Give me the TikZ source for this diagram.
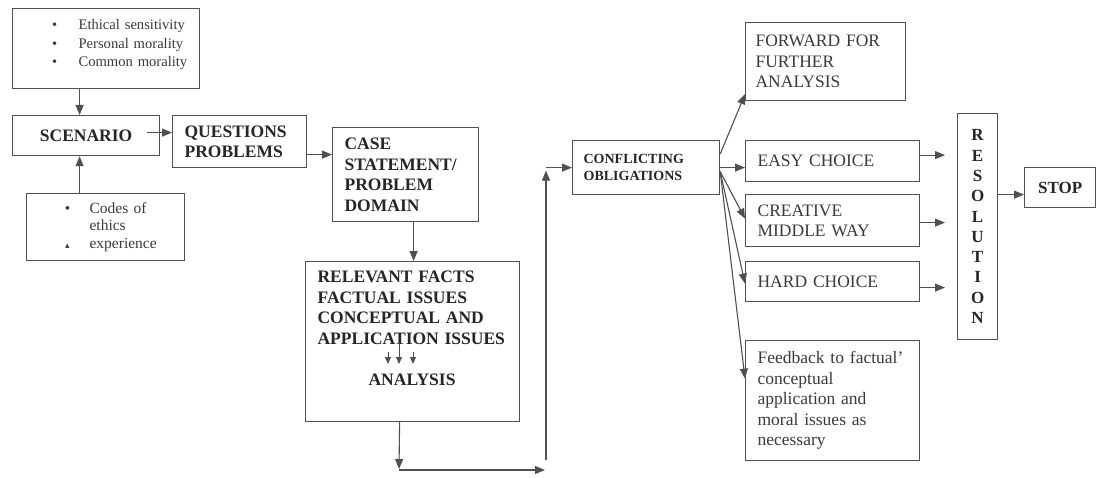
\documentclass[tikz,border=0pt]{standalone}
\usepackage{fontspec}
\setmainfont{Liberation Serif}
\newfontfamily\dejavu{DejaVu Sans}
\usetikzlibrary{arrows.meta}
\definecolor{linec}{HTML}{505050}
\definecolor{txtb}{HTML}{262626}
\definecolor{txtr}{HTML}{3A3A3A}
\begin{document}
\begin{tikzpicture}[x=1pt,y=-1pt,
 box/.style={draw=linec, line width=1.2pt, anchor=north west, inner sep=0pt, align=left},
 bigb/.style={font=\fontsize{17.5}{20.5}\selectfont\bfseries, text=txtb},
 reg/.style={font=\fontsize{17.5}{20.5}\selectfont, text=txtr},
 arr/.style={draw=linec, line width=1.1pt, -{Triangle[length=10pt,width=8pt]}},
 sarr/.style={draw=linec, line width=1pt, -{Triangle[length=7pt,width=6pt]}}]
\fill[white] (0,0) rectangle (1099,478);
\useasboundingbox (0,0) rectangle (1099,478);

% left column
\node[box, minimum width=187pt, minimum height=80pt, text width=187pt,
      font=\fontsize{14.6}{18.5}\selectfont, text=txtr] (eth) at (12,8)
 {\hspace*{39.4pt}\makebox[26.6pt][l]{\textbullet}Ethical sensitivity\\
  \hspace*{39.4pt}\makebox[26.6pt][l]{\textbullet}Personal morality\\
  \hspace*{39.4pt}\makebox[26.6pt][l]{\textbullet}Common morality\rule[-11pt]{0pt}{11pt}};

\node[box, bigb, minimum width=147pt, minimum height=40pt, text width=147pt, align=center] (scen) at (12,115) {SCENARIO};

\node[box, minimum width=158pt, minimum height=67pt, text width=158pt,
      font=\fontsize{15.5}{17.5}\selectfont, text=txtr] (codes) at (26,193)
 {\hspace*{38.3pt}\makebox[24.7pt][l]{\textbullet}Codes of\\
  \hspace*{63pt}ethics\\
  \hspace*{38.3pt}\makebox[24.7pt][l]{\hspace*{0.3pt}{\dejavu\fontsize{9}{9}\selectfont ▴}}experience};

\node[box, bigb, minimum width=134pt, minimum height=52pt, text width=134pt] (q) at (172,115)
 {\hspace*{12pt}QUESTIONS\\\hspace*{12pt}PROBLEMS};

\node[box, bigb, minimum width=146pt, minimum height=94pt, text width=146pt] (case) at (332,127)
 {\hspace*{12pt}CASE\\\hspace*{12pt}STATEMENT/\\\hspace*{12pt}PROBLEM\\\hspace*{12pt}DOMAIN};

\node[box, bigb, minimum width=214pt, minimum height=160pt, text width=214pt] (rel) at (305,261)
 {\hspace*{12pt}RELEVANT FACTS\\\hspace*{12pt}FACTUAL ISSUES\\\hspace*{12pt}CONCEPTUAL AND\\\hspace*{12pt}APPLICATION ISSUES\\[20.5pt]\hspace*{63pt}ANALYSIS\rule[-27pt]{0pt}{27pt}};

% small arrows inside analysis box
\draw[sarr] (388,352) -- (388,364);
\draw[sarr] (399,343) -- (399,364);
\draw[sarr] (413,352) -- (413,364);

\node[box, font=\fontsize{14}{17}\selectfont\bfseries, text=txtb, minimum width=147pt, minimum height=54pt, text width=147pt] (conf) at (572,140)
 {\hspace*{11pt}CONFLICTING\\\hspace*{11pt}OBLIGATIONS};

% right column
\node[box, reg, minimum width=160pt, minimum height=78pt, text width=160pt] (fwd) at (745,22)
 {\hspace*{10pt}FORWARD FOR\\\hspace*{10pt}FURTHER\\\hspace*{10pt}ANALYSIS};
\node[box, reg, minimum width=174pt, minimum height=41pt, text width=174pt] (easy) at (745,140)
 {\hspace*{12pt}EASY CHOICE};
\node[box, reg, minimum width=174pt, minimum height=52pt, text width=174pt] (crea) at (745,194)
 {\hspace*{12pt}CREATIVE\\\hspace*{12pt}MIDDLE WAY};
\node[box, reg, minimum width=174pt, minimum height=40pt, text width=174pt] (hard) at (745,261)
 {\hspace*{12pt}HARD CHOICE};
\node[box, reg, minimum width=174pt, minimum height=120pt, text width=174pt] (fb) at (745,340)
 {\hspace*{12pt}Feedback to factual’\\\hspace*{12pt}conceptual\\\hspace*{12pt}application and\\\hspace*{12pt}moral issues as\\\hspace*{12pt}necessary};

\node[box, font=\fontsize{17}{20.3}\selectfont\bfseries, text=txtb, minimum width=40pt, minimum height=226pt, text width=40pt, align=center] (res) at (957,113)
 {R\\E\\S\\O\\L\\U\\T\\I\\O\\N};
\node[box, font=\fontsize{17}{20}\selectfont\bfseries, text=txtb, minimum width=71pt, minimum height=40pt, text width=71pt, align=center] (stop) at (1024,167) {STOP};

% coordinates for free ends
\coordinate (c1) at (399,470);
\coordinate (c2) at (545,470);
\coordinate (c3) at (546,460);
\coordinate (c4) at (c3 |- conf.west);
\coordinate (rt) at (945,0);

% connectors
\draw[arr] ([xshift=-26.5pt]eth.south) -- ([xshift=-26.5pt]eth.south |- scen.north);
\draw[arr] ([xshift=-26pt]codes.north) -- ([xshift=-26pt]codes.north |- scen.south);
\draw[arr] ([xshift=-13pt,yshift=3pt]scen.east) -- ([yshift=3pt]scen.east -| q.west);
\draw[arr] ([yshift=-13pt]q.east) -- ([yshift=-13pt]q.east -| case.west);
\draw[arr] ([xshift=8pt]case.south) -- ([xshift=8pt]case.south |- rel.north);
\draw[arr] ([xshift=-13pt]rel.south) -- ([yshift=1pt]c1);
\draw[arr] (c1) -- (c2);
\draw[arr] (c3) -- ([yshift=-3pt]c4);
\draw[arr] (c4) -- (conf.west);

\draw[arr] ([yshift=-14pt]conf.north east) -- ([yshift=7pt]fwd.south west);
\draw[arr] (conf.east) -- (conf.east -| easy.west);
\draw[arr] ([yshift=-4pt]conf.east) -- ([yshift=2pt]crea.west);
\draw[arr] ([yshift=-4pt]conf.east) -- ([yshift=-2pt]hard.west);
\draw[arr] ([yshift=-4pt]conf.east) -- ([yshift=22pt]fb.west);

\draw[arr] ([yshift=6pt]easy.east) -- ([yshift=6pt]easy.east -| rt);
\draw[arr] ([yshift=-2pt]crea.east) -- ([yshift=-2pt]crea.east -| rt);
\draw[arr] ([yshift=-6pt]hard.east) -- ([yshift=-6pt]hard.east -| rt);
\draw[arr] ([yshift=-7pt]stop.west -| res.east) -- ([yshift=-7pt]stop.west);
\end{tikzpicture}
\end{document}
